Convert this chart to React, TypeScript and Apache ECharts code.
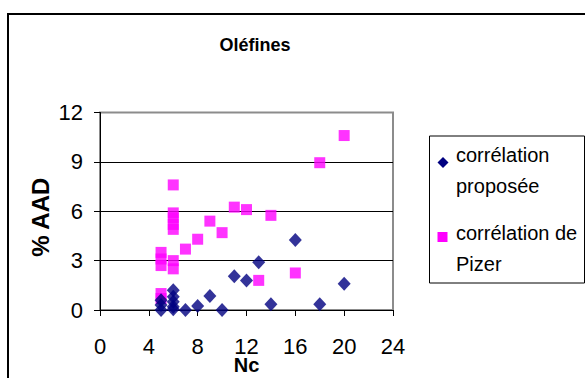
import React, { useEffect, useRef } from "react";
import * as echarts from "echarts";

const seriesNames = ["corrélation proposée", "corrélation de Pizer"];
const legendLines = [["corrélation", "proposée"], ["corrélation de", "Pizer"]];

// corrélation proposée (Nc, %AAD)
const proposeeX = [5, 5, 5, 6, 6, 6, 6, 6, 7, 8, 9, 10, 11, 12, 13, 14, 16, 18, 20];
const proposeeY = [0.0, 0.3, 0.6, 1.2, 0.8, 0.5, 0.2, 0.05, 0.0, 0.25, 0.85, 0.0, 2.05, 1.8, 2.9, 0.35, 4.25, 0.35, 1.6];

// corrélation de Pizer (Nc, %AAD)
const pizerX = [5, 5, 5, 5, 5, 6, 6, 6, 6, 6, 6, 6, 7, 8, 9, 10, 11, 12, 13, 14, 16, 18, 20];
const pizerY = [1.0, 0.7, 3.5, 3.1, 2.7, 7.6, 5.9, 5.6, 5.2, 4.9, 3.0, 2.5, 3.7, 4.3, 5.4, 4.7, 6.25, 6.1, 1.8, 5.75, 2.25, 8.95, 10.6];

const xTicks = [0, 4, 8, 12, 16, 20, 24];
const yTicks = [0, 3, 6, 9, 12];

const SANS = '"Liberation Sans", Arial, sans-serif';

export default function App() {
  const ref = useRef<HTMLDivElement>(null);
  useEffect(() => {
    document.body.style.margin = "0";
    const chart = echarts.init(ref.current!, undefined, { renderer: "svg" });
    const navy = "#000080";
    const pink = "#FF00FF";
    const legendY = [155, 186, 233, 264];
    chart.setOption({
      animation: false,
      backgroundColor: "#ffffff",
      title: {
        text: "Oléfines",
        left: 250,
        top: 31,
        textAlign: "center",
        textStyle: { fontFamily: SANS, fontSize: 18, fontWeight: "bold", color: "#000" },
      },
      grid: {
        left: 100,
        top: 112.5,
        right: 192,
        bottom: 68,
        outerBoundsMode: "none",
        containLabel: false,
        show: true,
        borderColor: "#8c8c8c",
        borderWidth: 2,
        backgroundColor: "transparent",
      },
      xAxis: {
        type: "value",
        min: xTicks[0],
        max: xTicks[xTicks.length - 1],
        interval: 4,
        name: "Nc",
        nameLocation: "middle",
        nameGap: 48,
        nameMoveOverlap: false,
        nameTextStyle: { fontFamily: SANS, fontSize: 20, lineHeight: 14, fontWeight: "bold", color: "#000" },
        axisLine: { show: true, lineStyle: { color: "#000", width: 1 } },
        axisTick: { show: true, inside: false, length: 6, lineStyle: { color: "#000" } },
        axisLabel: { fontFamily: SANS, fontSize: 22, lineHeight: 14, color: "#000", margin: 29 },
        splitLine: { show: false },
      },
      yAxis: {
        type: "value",
        min: yTicks[0],
        max: yTicks[yTicks.length - 1],
        interval: 3,
        name: "% AAD",
        nameLocation: "middle",
        nameGap: 48,
        nameMoveOverlap: false,
        nameRotate: 90,
        nameTextStyle: { fontFamily: SANS, fontSize: 24, fontWeight: "bold", color: "#000", padding: [0, 12, 0, 0] },
        axisLine: { show: true, lineStyle: { color: "#000", width: 1 } },
        axisTick: { show: true, inside: false, length: 6, lineStyle: { color: "#000" } },
        axisLabel: { fontFamily: SANS, fontSize: 22, color: "#000", margin: 17 },
        splitLine: {
          show: true,
          lineStyle: { color: ["#000", "#000", "#000", "#000", "#8c8c8c"], width: 1 },
        },
      },
      graphic: [
        {
          type: "rect",
          shape: { x: 8, y: 14, width: 700, height: 500 },
          style: { fill: "none", stroke: "#000", lineWidth: 2 },
          silent: true,
          z: 100,
        },
        {
          type: "rect",
          shape: { x: 429.5, y: 136, width: 155, height: 147 },
          style: { fill: "#fff", stroke: "#000", lineWidth: 1 },
          z: 50,
        },
        {
          type: "polygon",
          shape: { points: [[443, 157], [448.5, 162.5], [443, 168], [437.5, 162.5]] },
          style: { fill: navy },
          z: 51,
        },
        {
          type: "rect",
          shape: { x: 437.5, y: 232, width: 10, height: 10 },
          style: { fill: pink },
          z: 51,
        },
        ...legendLines.flatMap((lines, i) =>
          lines.map((t, j) => ({
            type: "text",
            x: 456,
            y: legendY[i * 2 + j],
            style: {
              text: t,
              fontFamily: SANS,
              fontSize: 20,
              fill: "#000",
              textVerticalAlign: "middle",
            },
            z: 51,
          }))
        ),
      ],
      series: [
        {
          name: seriesNames[0],
          type: "scatter",
          symbol: "diamond",
          symbolSize: [13, 14],
          itemStyle: { color: navy },
          data: proposeeX.map((x, i) => [x, proposeeY[i]]),
          z: 3,
        },
        {
          name: seriesNames[1],
          type: "scatter",
          symbol: "rect",
          symbolSize: [11, 11],
          itemStyle: { color: pink },
          data: pizerX.map((x, i) => [x, pizerY[i]]),
          z: 2,
        },
      ],
    });
    return () => chart.dispose();
  }, []);
  return <div ref={ref} style={{ width: 585, height: 378 }} />;
}
